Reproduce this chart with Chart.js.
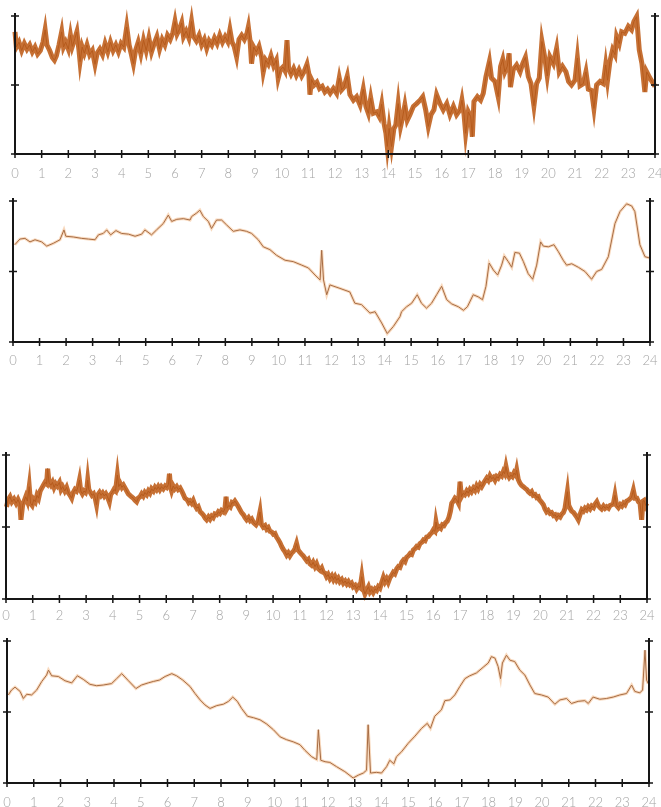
<!DOCTYPE html>
<html>
<head>
<meta charset="utf-8">
<script src="https://cdn.jsdelivr.net/npm/chart.js@4.4.1/dist/chart.umd.min.js"></script>
<style>
  html, body { margin: 0; padding: 0; background: #fff; width: 661px; height: 807px; overflow: hidden; }
  .panel { position: absolute; left: 0; width: 661px; }
</style>
</head>
<body>
<div class="panel" style="top:0px;height:184px"><canvas id="chart-a"></canvas></div>
<div class="panel" style="top:185px;height:187px"><canvas id="chart-b"></canvas></div>
<div class="panel" style="top:430px;height:199px"><canvas id="chart-c"></canvas></div>
<div class="panel" style="top:625px;height:188px"><canvas id="chart-d"></canvas></div>
<script>
// hour of day, level (0 = bottom tick, 2 = top tick)
const hourTicks = [0, 24]
const levelTicks = [0, 1, 2]

// panel 1: raw record, first day
const traceA = [
  [0.00,1.77],[0.05,1.55],[0.15,1.62],[0.25,1.50],[0.35,1.60],[0.45,1.52],[0.55,1.58],[0.65,1.48],[0.75,1.55],[0.85,1.45],
  [0.95,1.50],[1.05,1.62],[1.13,1.80],[1.20,1.58],[1.30,1.50],[1.40,1.40],[1.48,1.36],[1.55,1.42],[1.65,1.58],[1.75,1.77],
  [1.82,1.55],[1.90,1.62],[2.00,1.52],[2.08,1.72],[2.15,1.56],[2.25,1.68],[2.32,1.77],[2.40,1.50],[2.44,1.34],[2.52,1.55],
  [2.60,1.46],[2.70,1.58],[2.80,1.44],[2.90,1.50],[3.00,1.30],[3.08,1.46],[3.18,1.52],[3.28,1.44],[3.38,1.60],[3.48,1.48],
  [3.58,1.62],[3.68,1.50],[3.78,1.58],[3.88,1.48],[3.98,1.60],[4.08,1.55],[4.19,1.84],[4.28,1.58],[4.36,1.45],[4.44,1.31],
  [4.52,1.50],[4.62,1.62],[4.72,1.45],[4.82,1.65],[4.92,1.50],[5.02,1.68],[5.12,1.48],[5.22,1.60],[5.32,1.70],[5.42,1.52],
  [5.52,1.66],[5.62,1.58],[5.72,1.72],[5.82,1.66],[5.92,1.76],[6.00,1.92],[6.08,1.74],[6.18,1.82],[6.25,1.90],[6.32,1.70],
  [6.42,1.78],[6.52,1.68],[6.62,1.92],[6.70,1.70],[6.80,1.64],[6.90,1.72],[7.00,1.58],[7.10,1.66],[7.19,1.53],[7.28,1.64],
  [7.38,1.58],[7.48,1.68],[7.58,1.60],[7.68,1.72],[7.78,1.62],[7.88,1.70],[7.98,1.63],[8.06,1.80],[8.14,1.62],[8.22,1.56],
  [8.31,1.41],[8.40,1.66],[8.50,1.72],[8.60,1.66],[8.70,1.75],[8.75,1.84],[8.82,1.62],[8.87,1.31],[8.95,1.55],[9.05,1.48],
  [9.15,1.56],[9.25,1.40],[9.31,1.19],[9.40,1.36],[9.50,1.30],[9.60,1.42],[9.70,1.28],[9.80,1.36],[9.87,1.10],[9.95,1.22],
  [10.05,1.26],[10.12,1.21],[10.20,1.65],[10.26,1.24],[10.35,1.16],[10.45,1.24],[10.55,1.14],[10.65,1.22],[10.75,1.13],[10.85,1.20],
  [10.95,1.30],[11.02,1.16],[11.06,0.86],[11.12,1.08],[11.22,1.00],[11.32,1.04],[11.42,0.95],[11.52,0.98],[11.62,0.90],[11.72,0.94],
  [11.82,0.88],[11.94,0.95],[12.06,0.88],[12.16,1.10],[12.25,0.93],[12.34,0.97],[12.46,1.13],[12.56,0.86],[12.69,0.78],[12.81,0.83],
  [12.94,0.71],[13.06,0.94],[13.16,0.69],[13.25,0.59],[13.34,0.81],[13.44,0.59],[13.56,0.61],[13.66,0.54],[13.75,0.72],[13.84,0.44],
  [13.91,0.30],[13.96,0.11],[14.03,0.37],[14.12,0.11],[14.21,0.37],[14.28,0.42],[14.37,0.73],[14.46,0.40],[14.53,0.52],[14.62,0.71],
  [14.71,0.49],[14.81,0.57],[14.94,0.69],[15.06,0.73],[15.19,0.78],[15.29,0.83],[15.40,0.64],[15.50,0.40],[15.60,0.57],[15.71,0.64],
  [15.81,0.86],[15.94,0.73],[16.06,0.64],[16.19,0.73],[16.31,0.57],[16.44,0.69],[16.56,0.57],[16.69,0.64],[16.76,0.78],[16.84,0.57],
  [16.90,0.30],[17.00,0.61],[17.09,0.54],[17.15,0.25],[17.21,0.76],[17.34,0.83],[17.46,0.78],[17.56,0.88],[17.66,1.12],[17.79,1.34],
  [17.87,1.10],[18.00,1.05],[18.12,0.83],[18.21,1.27],[18.29,1.37],[18.37,1.19],[18.46,1.27],[18.53,1.46],[18.58,0.97],[18.68,1.22],
  [18.81,1.29],[18.94,1.19],[19.04,1.31],[19.14,1.40],[19.25,1.12],[19.35,1.02],[19.46,0.70],[19.56,1.02],[19.66,1.10],[19.76,1.63],
  [19.87,1.39],[19.96,1.13],[20.06,1.41],[20.19,1.31],[20.31,1.53],[20.41,1.19],[20.53,1.27],[20.66,1.19],[20.76,1.05],[20.87,1.00],
  [21.00,1.07],[21.09,1.39],[21.19,0.99],[21.31,1.02],[21.41,1.19],[21.50,0.94],[21.62,0.92],[21.71,0.66],[21.81,1.00],[21.94,1.05],
  [22.06,1.02],[22.15,1.29],[22.22,1.07],[22.31,1.34],[22.41,1.51],[22.50,1.44],[22.56,1.70],[22.66,1.60],[22.75,1.77],[22.87,1.75],
  [23.00,1.85],[23.12,1.80],[23.21,1.92],[23.31,1.99],[23.41,1.51],[23.51,1.31],[23.62,0.90],[23.69,1.19],[23.81,1.10],[24.00,0.98]
]

// panel 2: smoothed, first day
const traceB = [
  [0.07,1.38],[0.26,1.46],[0.45,1.47],[0.64,1.42],[0.83,1.45],[1.08,1.42],[1.27,1.36],[1.52,1.40],[1.77,1.45],[1.92,1.59],
  [1.99,1.50],[2.27,1.49],[2.59,1.47],[2.84,1.46],[3.09,1.45],[3.22,1.52],[3.40,1.54],[3.53,1.59],[3.68,1.52],[3.88,1.58],
  [4.09,1.54],[4.35,1.53],[4.60,1.50],[4.85,1.53],[4.97,1.59],[5.22,1.52],[5.41,1.59],[5.66,1.68],[5.85,1.80],[5.98,1.71],
  [6.17,1.74],[6.42,1.75],[6.67,1.73],[6.73,1.78],[6.92,1.83],[7.04,1.87],[7.17,1.78],[7.36,1.71],[7.48,1.61],[7.67,1.73],
  [7.86,1.73],[8.05,1.66],[8.30,1.57],[8.55,1.59],[8.80,1.57],[8.99,1.54],[9.24,1.45],[9.43,1.35],[9.68,1.31],[9.93,1.23],
  [10.25,1.16],[10.56,1.14],[10.88,1.09],[11.13,1.05],[11.38,0.95],[11.57,0.88],[11.63,1.30],[11.70,0.88],[11.82,0.67],[11.94,0.81],
  [12.32,0.76],[12.69,0.71],[12.88,0.55],[13.13,0.53],[13.45,0.41],[13.64,0.43],[13.89,0.27],[14.10,0.12],[14.33,0.22],[14.58,0.36],
  [14.64,0.43],[14.83,0.50],[15.02,0.55],[15.23,0.67],[15.39,0.55],[15.58,0.48],[15.77,0.55],[15.96,0.67],[16.15,0.79],[16.34,0.60],
  [16.53,0.54],[16.78,0.50],[16.97,0.45],[17.12,0.50],[17.34,0.67],[17.53,0.64],[17.69,0.60],[17.82,0.79],[17.94,1.12],[18.10,1.02],
  [18.26,0.95],[18.41,1.09],[18.51,1.22],[18.66,1.14],[18.79,1.06],[18.91,1.27],[19.08,1.26],[19.23,1.14],[19.41,0.97],[19.58,0.89],
  [19.73,1.09],[19.88,1.42],[19.98,1.36],[20.17,1.35],[20.38,1.38],[20.55,1.28],[20.73,1.16],[20.86,1.09],[21.05,1.11],[21.30,1.06],
  [21.55,1.00],[21.80,0.89],[21.99,1.00],[22.18,1.03],[22.43,1.21],[22.68,1.68],[22.87,1.85],[23.12,1.96],[23.31,1.93],[23.43,1.85],
  [23.62,1.38],[23.81,1.21],[24.00,1.19]
]

// panel 3: raw record, second day
const traceC = [
  [0.02,1.28],[0.08,1.38],[0.15,1.42],[0.22,1.35],[0.30,1.39],[0.38,1.33],[0.45,1.38],[0.52,1.32],[0.56,1.10],[0.62,1.30],
  [0.68,1.36],[0.74,1.42],[0.80,1.36],[0.87,1.56],[0.92,1.33],[0.98,1.30],[1.04,1.38],[1.10,1.35],[1.16,1.44],[1.22,1.40],
  [1.28,1.50],[1.34,1.54],[1.40,1.58],[1.46,1.62],[1.52,1.60],[1.56,1.81],[1.61,1.62],[1.68,1.58],[1.74,1.62],[1.80,1.55],
  [1.86,1.60],[1.92,1.57],[2.00,1.62],[2.06,1.52],[2.12,1.56],[2.20,1.50],[2.27,1.55],[2.34,1.47],[2.40,1.44],[2.46,1.40],
  [2.52,1.48],[2.58,1.52],[2.64,1.50],[2.70,1.56],[2.75,1.65],[2.80,1.50],[2.86,1.46],[2.92,1.50],[2.98,1.48],[3.03,1.54],
  [3.06,1.65],[3.10,1.52],[3.16,1.48],[3.22,1.44],[3.28,1.46],[3.34,1.40],[3.39,1.31],[3.44,1.45],[3.50,1.48],[3.56,1.44],
  [3.62,1.47],[3.68,1.43],[3.74,1.46],[3.80,1.42],[3.87,1.35],[3.92,1.45],[3.98,1.48],[4.04,1.52],[4.10,1.50],[4.17,1.72],
  [4.22,1.56],[4.28,1.60],[4.34,1.55],[4.40,1.58],[4.46,1.54],[4.52,1.50],[4.58,1.46],[4.64,1.44],[4.70,1.42],[4.77,1.40],
  [4.83,1.37],[4.89,1.35],[4.95,1.40],[5.02,1.42],[5.08,1.46],[5.14,1.43],[5.20,1.48],[5.27,1.45],[5.33,1.50],[5.39,1.47],
  [5.45,1.53],[5.52,1.50],[5.58,1.55],[5.64,1.52],[5.70,1.56],[5.76,1.52],[5.82,1.56],[5.89,1.53],[5.96,1.57],[6.02,1.55],
  [6.08,1.59],[6.12,1.74],[6.16,1.55],[6.20,1.50],[6.26,1.57],[6.32,1.53],[6.39,1.56],[6.45,1.52],[6.52,1.54],[6.58,1.50],
  [6.64,1.45],[6.70,1.40],[6.78,1.38],[6.84,1.34],[6.89,1.36],[6.95,1.33],[7.01,1.37],[7.08,1.30],[7.14,1.26],[7.20,1.28],
  [7.27,1.21],[7.33,1.19],[7.40,1.16],[7.46,1.12],[7.51,1.10],[7.58,1.14],[7.64,1.11],[7.70,1.15],[7.76,1.13],[7.82,1.18],
  [7.89,1.17],[7.95,1.21],[8.01,1.19],[8.07,1.23],[8.14,1.21],[8.20,1.26],[8.24,1.42],[8.28,1.26],[8.34,1.30],[8.40,1.28],
  [8.46,1.34],[8.51,1.33],[8.57,1.36],[8.64,1.32],[8.70,1.28],[8.76,1.24],[8.82,1.20],[8.89,1.17],[8.95,1.13],[9.01,1.10],
  [9.08,1.13],[9.14,1.09],[9.20,1.11],[9.27,1.06],[9.36,1.03],[9.44,1.08],[9.51,1.21],[9.56,1.04],[9.63,1.00],[9.70,1.02],
  [9.76,0.97],[9.82,0.99],[9.88,0.94],[9.95,0.93],[10.01,0.90],[10.07,0.91],[10.13,0.86],[10.20,0.82],[10.26,0.78],[10.32,0.73],
  [10.38,0.69],[10.44,0.66],[10.51,0.61],[10.57,0.64],[10.63,0.60],[10.70,0.64],[10.76,0.66],[10.82,0.70],[10.88,0.77],[10.94,0.68],
  [11.00,0.65],[11.07,0.62],[11.13,0.60],[11.20,0.56],[11.26,0.53],[11.32,0.55],[11.38,0.49],[11.44,0.47],[11.50,0.51],[11.57,0.45],
  [11.63,0.49],[11.70,0.42],[11.76,0.40],[11.82,0.43],[11.88,0.37],[11.94,0.36],[12.00,0.31],[12.06,0.34],[12.13,0.28],[12.20,0.32],
  [12.26,0.27],[12.32,0.31],[12.38,0.26],[12.44,0.29],[12.50,0.24],[12.57,0.27],[12.63,0.22],[12.70,0.25],[12.76,0.21],[12.82,0.24],
  [12.88,0.20],[12.94,0.22],[13.00,0.17],[13.07,0.19],[13.13,0.14],[13.20,0.18],[13.26,0.16],[13.32,0.31],[13.38,0.14],[13.44,0.07],
  [13.50,0.12],[13.57,0.17],[13.63,0.10],[13.69,0.13],[13.75,0.09],[13.82,0.14],[13.88,0.12],[13.94,0.17],[14.00,0.15],[14.06,0.22],
  [14.13,0.30],[14.19,0.24],[14.25,0.28],[14.31,0.23],[14.38,0.30],[14.44,0.33],[14.50,0.37],[14.56,0.35],[14.63,0.42],[14.69,0.45],
  [14.75,0.44],[14.82,0.51],[14.88,0.54],[14.94,0.52],[15.00,0.58],[15.07,0.60],[15.13,0.63],[15.19,0.62],[15.25,0.68],[15.32,0.70],
  [15.38,0.73],[15.44,0.72],[15.50,0.77],[15.57,0.79],[15.63,0.82],[15.69,0.81],[15.75,0.86],[15.82,0.87],[15.88,0.90],[15.94,0.92],
  [16.00,0.96],[16.06,0.94],[16.10,1.07],[16.15,0.97],[16.22,1.00],[16.28,0.98],[16.34,1.03],[16.40,1.02],[16.46,1.06],[16.52,1.08],
  [16.58,1.13],[16.64,1.22],[16.69,1.33],[16.75,1.36],[16.81,1.40],[16.87,1.38],[16.94,1.33],[17.00,1.63],[17.05,1.42],[17.12,1.47],
  [17.18,1.45],[17.25,1.50],[17.31,1.47],[17.37,1.52],[17.43,1.49],[17.50,1.54],[17.56,1.51],[17.62,1.57],[17.68,1.53],[17.75,1.59],
  [17.81,1.56],[17.87,1.60],[17.93,1.64],[18.00,1.68],[18.06,1.65],[18.12,1.71],[18.18,1.67],[18.25,1.69],[18.31,1.65],[18.37,1.70],
  [18.43,1.68],[18.50,1.73],[18.56,1.71],[18.62,1.77],[18.67,1.74],[18.72,1.84],[18.78,1.73],[18.84,1.69],[18.90,1.72],[18.96,1.70],
  [19.02,1.75],[19.08,1.72],[19.12,1.79],[19.18,1.66],[19.24,1.61],[19.30,1.58],[19.37,1.56],[19.43,1.54],[19.50,1.52],[19.56,1.49],
  [19.62,1.47],[19.68,1.49],[19.74,1.44],[19.81,1.45],[19.87,1.41],[19.93,1.42],[19.97,1.38],[20.04,1.35],[20.12,1.31],[20.18,1.25],
  [20.24,1.21],[20.30,1.23],[20.37,1.19],[20.43,1.20],[20.50,1.16],[20.56,1.17],[20.62,1.13],[20.68,1.16],[20.75,1.14],[20.81,1.18],
  [20.87,1.20],[20.93,1.26],[21.02,1.49],[21.07,1.30],[21.12,1.26],[21.18,1.22],[21.25,1.20],[21.31,1.17],[21.37,1.14],[21.43,1.10],
  [21.50,1.18],[21.56,1.24],[21.62,1.22],[21.68,1.26],[21.74,1.24],[21.80,1.28],[21.87,1.25],[21.93,1.29],[22.00,1.27],[22.06,1.32],
  [22.12,1.35],[22.18,1.30],[22.24,1.27],[22.30,1.25],[22.37,1.29],[22.43,1.26],[22.49,1.28],[22.56,1.26],[22.62,1.30],[22.68,1.31],
  [22.74,1.32],[22.80,1.44],[22.86,1.30],[22.93,1.27],[23.00,1.31],[23.06,1.29],[23.12,1.33],[23.18,1.31],[23.24,1.36],[23.30,1.37],
  [23.36,1.39],[23.42,1.41],[23.49,1.51],[23.55,1.40],[23.62,1.40],[23.68,1.35],[23.74,1.33],[23.80,1.10],[23.85,1.36],[23.89,1.37],
  [23.95,1.30],[23.99,1.33]
]

// panel 4: smoothed, second day
const traceD = [
  [0.05,1.24],[0.17,1.31],[0.30,1.35],[0.49,1.29],[0.61,1.19],[0.74,1.25],[0.92,1.24],[1.11,1.31],[1.30,1.43],[1.48,1.52],
  [1.55,1.59],[1.67,1.51],[1.92,1.50],[2.17,1.44],[2.42,1.41],[2.63,1.51],[2.85,1.46],[3.10,1.39],[3.35,1.37],[3.60,1.38],
  [3.91,1.40],[4.10,1.47],[4.29,1.54],[4.54,1.44],[4.82,1.33],[5.03,1.38],[5.28,1.41],[5.47,1.43],[5.70,1.45],[5.91,1.50],
  [6.16,1.54],[6.34,1.51],[6.57,1.45],[6.84,1.36],[7.03,1.26],[7.22,1.17],[7.40,1.10],[7.59,1.05],[7.84,1.09],[8.09,1.11],
  [8.28,1.15],[8.44,1.21],[8.61,1.15],[8.77,1.05],[8.99,0.94],[9.21,0.92],[9.46,0.89],[9.71,0.83],[9.96,0.75],[10.21,0.65],
  [10.45,0.61],[10.70,0.58],[10.95,0.54],[11.14,0.46],[11.39,0.37],[11.58,0.33],[11.64,0.75],[11.73,0.32],[11.89,0.30],[12.07,0.29],
  [12.32,0.23],[12.63,0.16],[12.94,0.07],[13.13,0.11],[13.32,0.14],[13.44,0.18],[13.50,0.82],[13.59,0.14],[13.81,0.15],[14.00,0.14],
  [14.19,0.23],[14.31,0.32],[14.46,0.27],[14.56,0.37],[14.75,0.44],[15.00,0.56],[15.25,0.66],[15.50,0.77],[15.71,0.84],[15.83,0.77],
  [15.99,0.94],[16.24,1.03],[16.37,1.16],[16.56,1.17],[16.74,1.24],[16.93,1.36],[17.12,1.47],[17.30,1.51],[17.55,1.55],[17.80,1.63],
  [17.99,1.69],[18.11,1.78],[18.24,1.76],[18.36,1.64],[18.45,1.47],[18.52,1.69],[18.67,1.80],[18.80,1.73],[18.98,1.71],[19.17,1.59],
  [19.36,1.52],[19.55,1.38],[19.73,1.26],[19.98,1.24],[20.23,1.21],[20.48,1.11],[20.67,1.17],[20.92,1.19],[21.10,1.12],[21.35,1.15],
  [21.60,1.16],[21.73,1.12],[21.91,1.21],[22.16,1.18],[22.41,1.19],[22.66,1.21],[22.91,1.24],[23.16,1.26],[23.35,1.38],[23.47,1.29],
  [23.66,1.27],[23.76,1.31],[23.85,1.87],[23.91,1.45],[23.97,1.40]
]

// black axis frame with crossing tick marks, drawn through the chart's own scales
const framePlugin = {
  id: 'frame',
  afterDatasetsDraw(chart) {
    const { ctx, scales: { x, y } } = chart
    const left = x.getPixelForValue(hourTicks[0])
    const right = x.getPixelForValue(hourTicks[1])
    const base = y.getPixelForValue(levelTicks[0])
    const top = y.getPixelForValue(levelTicks[2])
    ctx.save()
    ctx.strokeStyle = '#161616'
    ctx.lineWidth = 2
    ctx.beginPath()
    ctx.moveTo(left, top - 3)
    ctx.lineTo(left, base)
    ctx.lineTo(right, base)
    ctx.lineTo(right, top - 3)
    ctx.stroke()
    ctx.lineWidth = 1.5
    ctx.beginPath()
    x.ticks.forEach(t => {
      const px = x.getPixelForValue(t.value)
      ctx.moveTo(px, base - 4)
      ctx.lineTo(px, base + 4)
    })
    levelTicks.forEach(v => {
      const py = y.getPixelForValue(v)
      ctx.moveTo(left - 4, py)
      ctx.lineTo(left + 4, py)
      ctx.moveTo(right - 4, py)
      ctx.lineTo(right + 4, py)
    })
    ctx.stroke()
    ctx.restore()
  }
}

const makeChart = (id, trace, noisy, pad, labelGap) => {
  const points = trace.map(p => ({ x: p[0], y: p[1] }))
  const container = document.getElementById(id).getContext('2d')
  return new Chart(container, {
    type: 'line',
    data: {
      datasets: [
        {
          data: points,
          borderColor: noisy ? 'rgba(192,96,30,0.9)' : 'rgba(240,170,110,0.45)',
          borderWidth: noisy ? 5 : 3,
          pointRadius: 0,
          tension: 0,
          clip: false,
        },
        {
          data: points,
          borderColor: noisy ? '#5a2710' : '#6b3a22',
          borderWidth: 1,
          pointRadius: 0,
          tension: 0,
          clip: false,
        },
      ],
    },
    options: {
      animation: false,
      responsive: true,
      maintainAspectRatio: false,
      events: [],
      layout: { padding: { left: pad[0], right: pad[1], top: pad[2], bottom: 0 } },
      plugins: { legend: { display: false }, tooltip: { enabled: false } },
      scales: {
        x: {
          type: 'linear',
          min: hourTicks[0],
          max: hourTicks[1],
          grid: { display: false, drawTicks: false },
          border: { display: false },
          ticks: {
            stepSize: 1,
            autoSkip: false,
            maxRotation: 0,
            padding: labelGap,
            color: '#a3a3a3',
            font: { family: 'Lato', size: 13, weight: '300' },
          },
          afterFit: scale => {
            scale.height = 30
            scale.paddingLeft = 0
            scale.paddingRight = 0
          },
        },
        y: {
          display: false,
          min: levelTicks[0],
          max: levelTicks[2],
        },
      },
    },
    plugins: [framePlugin],
  })
}

makeChart('chart-a', traceA, true, [15, 6, 16], 12)
makeChart('chart-b', traceB, false, [13, 11, 16], 11)
makeChart('chart-c', traceC, true, [6, 14, 25], 9)
makeChart('chart-d', traceD, false, [7, 12, 16], 12)
</script>
</body>
</html>
